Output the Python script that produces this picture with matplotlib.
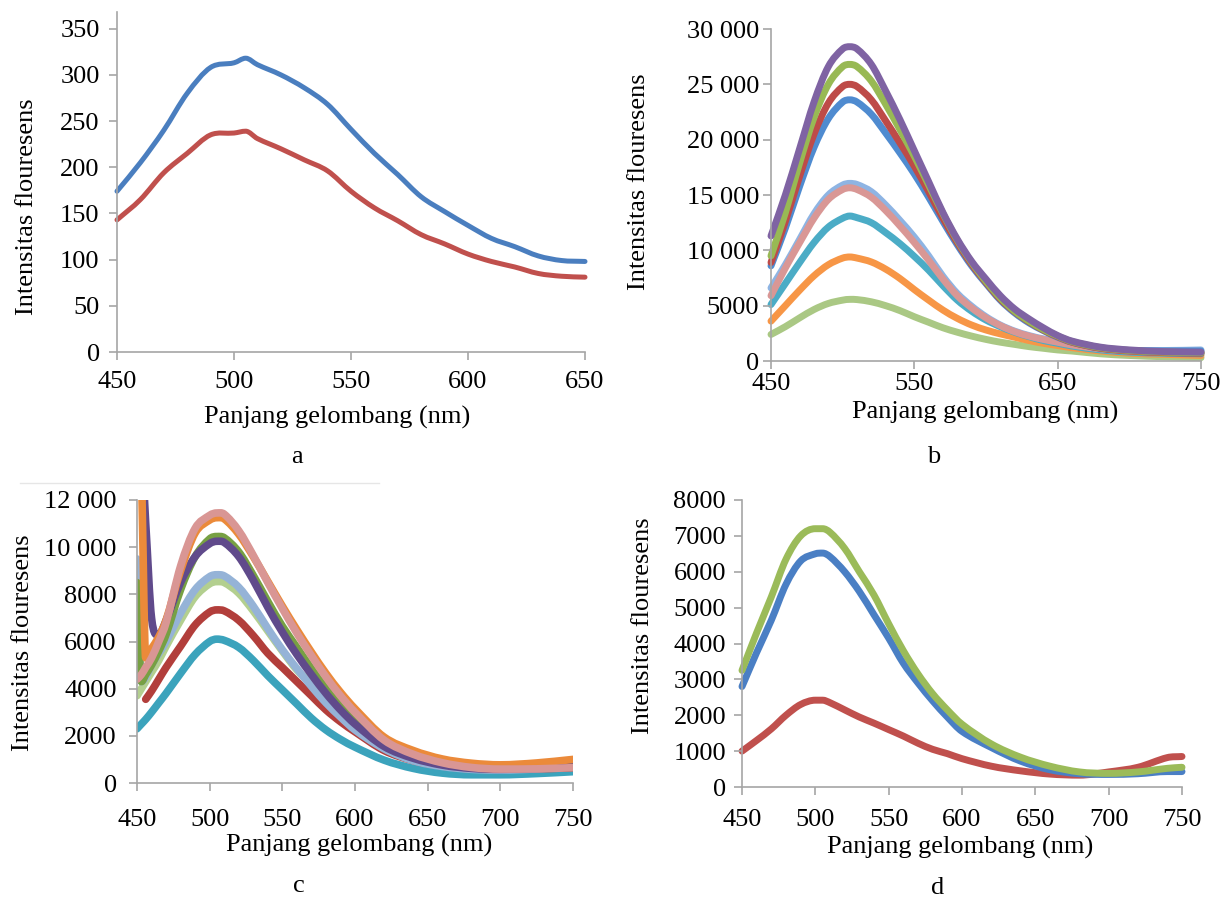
import numpy as np
import matplotlib
matplotlib.use('Agg')
import matplotlib.pyplot as plt
from matplotlib.lines import Line2D
from matplotlib.path import Path
from matplotlib.patches import PathPatch

# ---- data ----
# a: two noisy spectra, 450-650 nm
wl_a = [450, 460, 470, 480, 490, 500, 505, 510, 520, 530, 540, 550,
        560, 570, 580, 590, 600, 610, 620, 630, 640, 650]
a_blue = [174, 205, 240, 280, 308, 313, 318, 311, 300, 286, 268, 241,
          215, 192, 168, 152, 137, 123, 114, 104, 99, 98]
a_red = [143, 165, 194, 215, 235, 237, 239, 231, 220, 208, 196, 174,
         156, 142, 127, 117, 106, 98, 92, 85, 82, 81]

# b: nine spectra, 450-750 nm
wl_b = [450, 460, 470, 480, 490, 500, 505, 510, 520, 530, 540, 550, 560, 570,
        580, 590, 600, 610, 620, 630, 640, 650, 660, 680, 700, 725, 750]
b_lgreen = [2400, 3100, 3900, 4650, 5200, 5500, 5570, 5550, 5350, 5000, 4550, 4000, 3500, 3000,
            2600, 2250, 1950, 1700, 1500, 1300, 1150, 1000, 900, 650, 500, 380, 300]
b_orange = [3600, 5000, 6400, 7700, 8700, 9300, 9400, 9300, 8950, 8300, 7450, 6450, 5500, 4600,
            3850, 3250, 2800, 2450, 2150, 1850, 1600, 1400, 1200, 900, 700, 600, 500]
b_teal = [5100, 7000, 8900, 10700, 12100, 12900, 13100, 12950, 12500, 11600, 10600, 9450, 8200, 6800,
          5500, 4500, 3700, 3100, 2600, 2200, 1850, 1600, 1350, 1000, 800, 700, 650]
b_pink = [5900, 8400, 10700, 12900, 14600, 15500, 15650, 15500, 14800, 13600, 12200, 10700, 9100, 7400,
          5900, 4800, 3900, 3200, 2650, 2250, 1950, 1700, 1450, 1100, 900, 800, 800]
b_lblue = [6600, 8700, 11000, 13300, 15000, 15900, 16050, 15950, 15300, 14100, 12700, 11200, 9500, 7650,
           6100, 4950, 4000, 3250, 2700, 2300, 2000, 1750, 1500, 1150, 950, 950, 1000]
b_blue = [8600, 12000, 15800, 19300, 21900, 23400, 23600, 23400, 22300, 20600, 18800, 16900, 14800, 12600,
          10500, 8600, 7000, 5500, 4350, 3450, 2750, 2150, 1700, 1150, 950, 900, 900]
b_red = [8900, 12600, 16700, 20500, 23300, 24800, 25000, 24800, 23600, 21700, 19700, 17600, 15300, 12900,
         10700, 8750, 7100, 5600, 4450, 3550, 2800, 2200, 1700, 1150, 900, 750, 700]
b_green = [9500, 13400, 17900, 22000, 25000, 26600, 26800, 26600, 25300, 23200, 20900, 18500, 15900, 13300,
           10900, 8900, 7200, 5700, 4500, 3600, 2850, 2250, 1750, 1200, 950, 800, 750]
b_purple = [11300, 15000, 19200, 23400, 26600, 28200, 28400, 28200, 26800, 24400, 21800, 19000, 16200, 13400,
            11000, 9000, 7400, 5900, 4700, 3800, 3000, 2300, 1800, 1250, 1000, 850, 800]

# c: eight spectra with a scatter spike at the start
wl_c = [450, 453, 456, 460, 465, 470, 480, 490, 500, 505, 510, 520, 530, 540,
        550, 560, 570, 580, 590, 600, 620, 640, 660, 680, 700, 725, 750]
c_teal = [2300, 2500, 2700, 3000, 3400, 3800, 4650, 5450, 6000, 6100, 6050, 5750, 5200, 4550,
          3950, 3350, 2750, 2250, 1850, 1520, 970, 620, 420, 350, 350, 400, 480]
c_red = [np.nan, np.nan, 3550, 3900, 4400, 4900, 5800, 6700, 7250, 7340, 7300, 6900, 6250, 5500,
         4900, 4300, 3700, 3100, 2600, 2170, 1380, 950, 720, 600, 580, 600, 650]
c_lgreen = [3700, 4000, 4300, 4700, 5200, 5800, 6900, 7900, 8450, 8540, 8500, 8050, 7300, 6450,
            5600, 4800, 4200, 3550, 3000, 2500, 1600, 1050, 820, 700, 700, 750, 800]
c_lblue = [9500, 4300, 4500, 5000, 5500, 6000, 7200, 8200, 8750, 8830, 8780, 8300, 7500, 6550,
           5650, 4850, 4100, 3400, 2800, 2250, 1450, 950, 700, 580, 550, 600, 700]
c_purple = [14000, 14000, 11000, 7000, 6300, 6900, 8500, 9600, 10150, 10250, 10200, 9600, 8600, 7450,
            6400, 5450, 4600, 3800, 3100, 2500, 1550, 1050, 760, 620, 580, 620, 700]
c_green = [8500, 4300, 4600, 5000, 5600, 6300, 8200, 9600, 10350, 10450, 10400, 9800, 8800, 7700,
           6650, 5750, 4850, 4000, 3250, 2600, 1650, 1100, 800, 650, 600, 650, 700]
c_orange = [14000, 13000, 5300, 5700, 6200, 6900, 9000, 10600, 11150, 11250, 11200, 10550, 9600, 8550,
            7500, 6500, 5550, 4650, 3850, 3150, 1950, 1380, 1020, 840, 770, 850, 1000]
c_pink = [4400, 4600, 4900, 5300, 6000, 6800, 9200, 10800, 11350, 11450, 11400, 10700, 9650, 8500,
          7400, 6350, 5400, 4500, 3700, 3000, 1820, 1220, 860, 660, 590, 600, 650]

# d: three spectra
wl_d = [450, 460, 470, 480, 490, 500, 505, 510, 520, 530, 540, 550, 560,
        570, 580, 590, 600, 620, 640, 660, 680, 700, 720, 740, 750]
d_red = [1000, 1300, 1620, 2000, 2300, 2420, 2420, 2350, 2150, 1950, 1780, 1600, 1420,
         1220, 1050, 930, 790, 580, 450, 360, 330, 420, 550, 820, 850]
d_blue = [2800, 3750, 4650, 5650, 6300, 6500, 6520, 6420, 6000, 5450, 4800, 4150, 3450,
          2900, 2400, 1950, 1550, 1100, 720, 480, 370, 350, 370, 430, 430]
d_green = [3250, 4300, 5300, 6350, 7000, 7200, 7200, 7100, 6650, 6000, 5350, 4550, 3800,
           3150, 2600, 2150, 1750, 1200, 830, 580, 420, 380, 420, 520, 550]

xticks_a = [450, 500, 550, 600, 650]
yticks_a = [0, 50, 100, 150, 200, 250, 300, 350]
xticks_b = [450, 550, 650, 750]
yticks_b = [0, 5000, 10000, 15000, 20000, 25000, 30000]
ylabels_b = ['0', '5000', '10 000', '15 000', '20 000', '25 000', '30 000']
xticks_cd = [450, 500, 550, 600, 650, 700, 750]
yticks_c = [0, 2000, 4000, 6000, 8000, 10000, 12000]
ylabels_c = ['0', '2000', '4000', '6000', '8000', '10 000', '12 000']
yticks_d = [0, 1000, 2000, 3000, 4000, 5000, 6000, 7000, 8000]

XLABEL = 'Panjang gelombang (nm)'
YLABEL = 'Intensitas flouresens'

W, H = 1220, 899
GREY = '#a6a6a6'

plt.rcParams['font.family'] = ['Liberation Serif', 'DejaVu Serif']
plt.rcParams['font.size'] = 19

fig = plt.figure(figsize=(W / 100, H / 100), dpi=100)


def box(left, right, top, bottom):
    """axes rectangle from pixel edges"""
    return [left / W, 1 - bottom / H, (right - left) / W, (bottom - top) / H]


def put(x, y, s, **kw):
    fig.text(x / W, 1 - y / H, s, ha='center', va='center', **kw)


def style(ax, xticks, yticks, ylabels, xpad, ypad):
    for s in ['top', 'right']:
        ax.spines[s].set_visible(False)
    for s in ['left', 'bottom']:
        ax.spines[s].set_color(GREY)
        ax.spines[s].set_linewidth(1.2)
    ax.set_xticks(xticks)
    ax.set_xticklabels([str(t) for t in xticks])
    ax.set_yticks(yticks)
    ax.set_yticklabels(ylabels)
    ax.tick_params(axis='both', direction='out', length=5.5, width=1.2, color=GREY, labelsize=19)
    ax.tick_params(axis='x', pad=xpad)
    ax.tick_params(axis='y', pad=ypad)


def smooth_line(ax, xs, ys, color, lw, clip):
    """smoothed line through the points (bezier segments, like a spreadsheet 'smoothed line')"""
    p = np.array([(x, y) for x, y in zip(xs, ys) if not np.isnan(y)], float)
    x, y = p[:, 0], p[:, 1]
    n = len(p)
    m = np.zeros(n)
    m[0] = (y[1] - y[0]) / (x[1] - x[0])
    m[-1] = (y[-1] - y[-2]) / (x[-1] - x[-2])
    for i in range(1, n - 1):
        if (y[i] - y[i - 1]) * (y[i + 1] - y[i]) <= 0:
            m[i] = 0.0
        else:
            m[i] = (y[i + 1] - y[i - 1]) / (x[i + 1] - x[i - 1])
    verts = [p[0]]
    codes = [Path.MOVETO]
    for i in range(n - 1):
        h = (x[i + 1] - x[i]) / 3
        verts += [(x[i] + h, y[i] + m[i] * h), (x[i + 1] - h, y[i + 1] - m[i + 1] * h), p[i + 1]]
        codes += [Path.CURVE4] * 3
    patch = PathPatch(Path(verts, codes), facecolor='none', edgecolor=color, lw=lw,
                      capstyle='round', joinstyle='round', clip_on=clip)
    ax.add_patch(patch)


def draw(ax, wl, series, lw, clip=False):
    for vals, col in series:
        smooth_line(ax, wl, vals, col, lw, clip)


# a
ax = fig.add_axes(box(117, 585, 12, 352))
draw(ax, wl_a, [(a_blue, '#4a7ebf'), (a_red, '#c0504d')], 3.6)
ax.set_xlim(450, 650)
ax.set_ylim(0, 368)
style(ax, xticks_a, yticks_a, [str(t) for t in yticks_a], 8, 7)
put(337, 417, XLABEL)
put(27, 207, YLABEL, rotation=90)
put(297, 457, 'a')

# b
ax = fig.add_axes(box(771, 1201, 29, 361))
draw(ax, wl_b, [(b_lgreen, '#aac884'), (b_orange, '#f79646'), (b_teal, '#4bacc6'),
                (b_lblue, '#8eb4e3'), (b_pink, '#d99795'), (b_blue, '#4f8bd0'),
                (b_red, '#be4b48'), (b_green, '#98b954'), (b_purple, '#7f63a3')], 5)
ax.set_xlim(450, 750)
ax.set_ylim(0, 30000)
style(ax, xticks_b, yticks_b, ylabels_b, 3, 3)
put(985, 412, XLABEL)
put(639, 182, YLABEL, rotation=90)
put(934, 457, 'b')

# c
ax = fig.add_axes(box(137, 573, 500, 783))
draw(ax, wl_c, [(c_teal, '#3ba3bc'), (c_red, '#b23e3b'), (c_lgreen, '#b3cf8f'),
                (c_lblue, '#95b3d7'), (c_green, '#77a043'), (c_purple, '#604a8b'),
                (c_orange, '#eb8a3a'), (c_pink, '#d99694')], 5.5, clip=True)
ax.set_xlim(450, 750)
ax.set_ylim(0, 12000)
style(ax, xticks_cd, yticks_c, ylabels_c, 13, 9)
put(359, 845, XLABEL)
put(23, 643, YLABEL, rotation=90)
put(299, 886, 'c')
fig.add_artist(Line2D([20 / W, 379 / W], [1 - 483 / H, 1 - 483 / H], color='#e6e6e6', lw=1))

# d
ax = fig.add_axes(box(742, 1182, 500, 787))
draw(ax, wl_d, [(d_red, '#c0504d'), (d_blue, '#4a7fc4'), (d_green, '#9bbb59')], 5)
ax.set_xlim(450, 750)
ax.set_ylim(0, 8000)
style(ax, xticks_cd, yticks_d, [str(t) for t in yticks_d], 10, 6)
put(960, 847, XLABEL)
put(643, 626, YLABEL, rotation=90)
put(938, 888, 'd')

fig.savefig('out.png', dpi=100)
